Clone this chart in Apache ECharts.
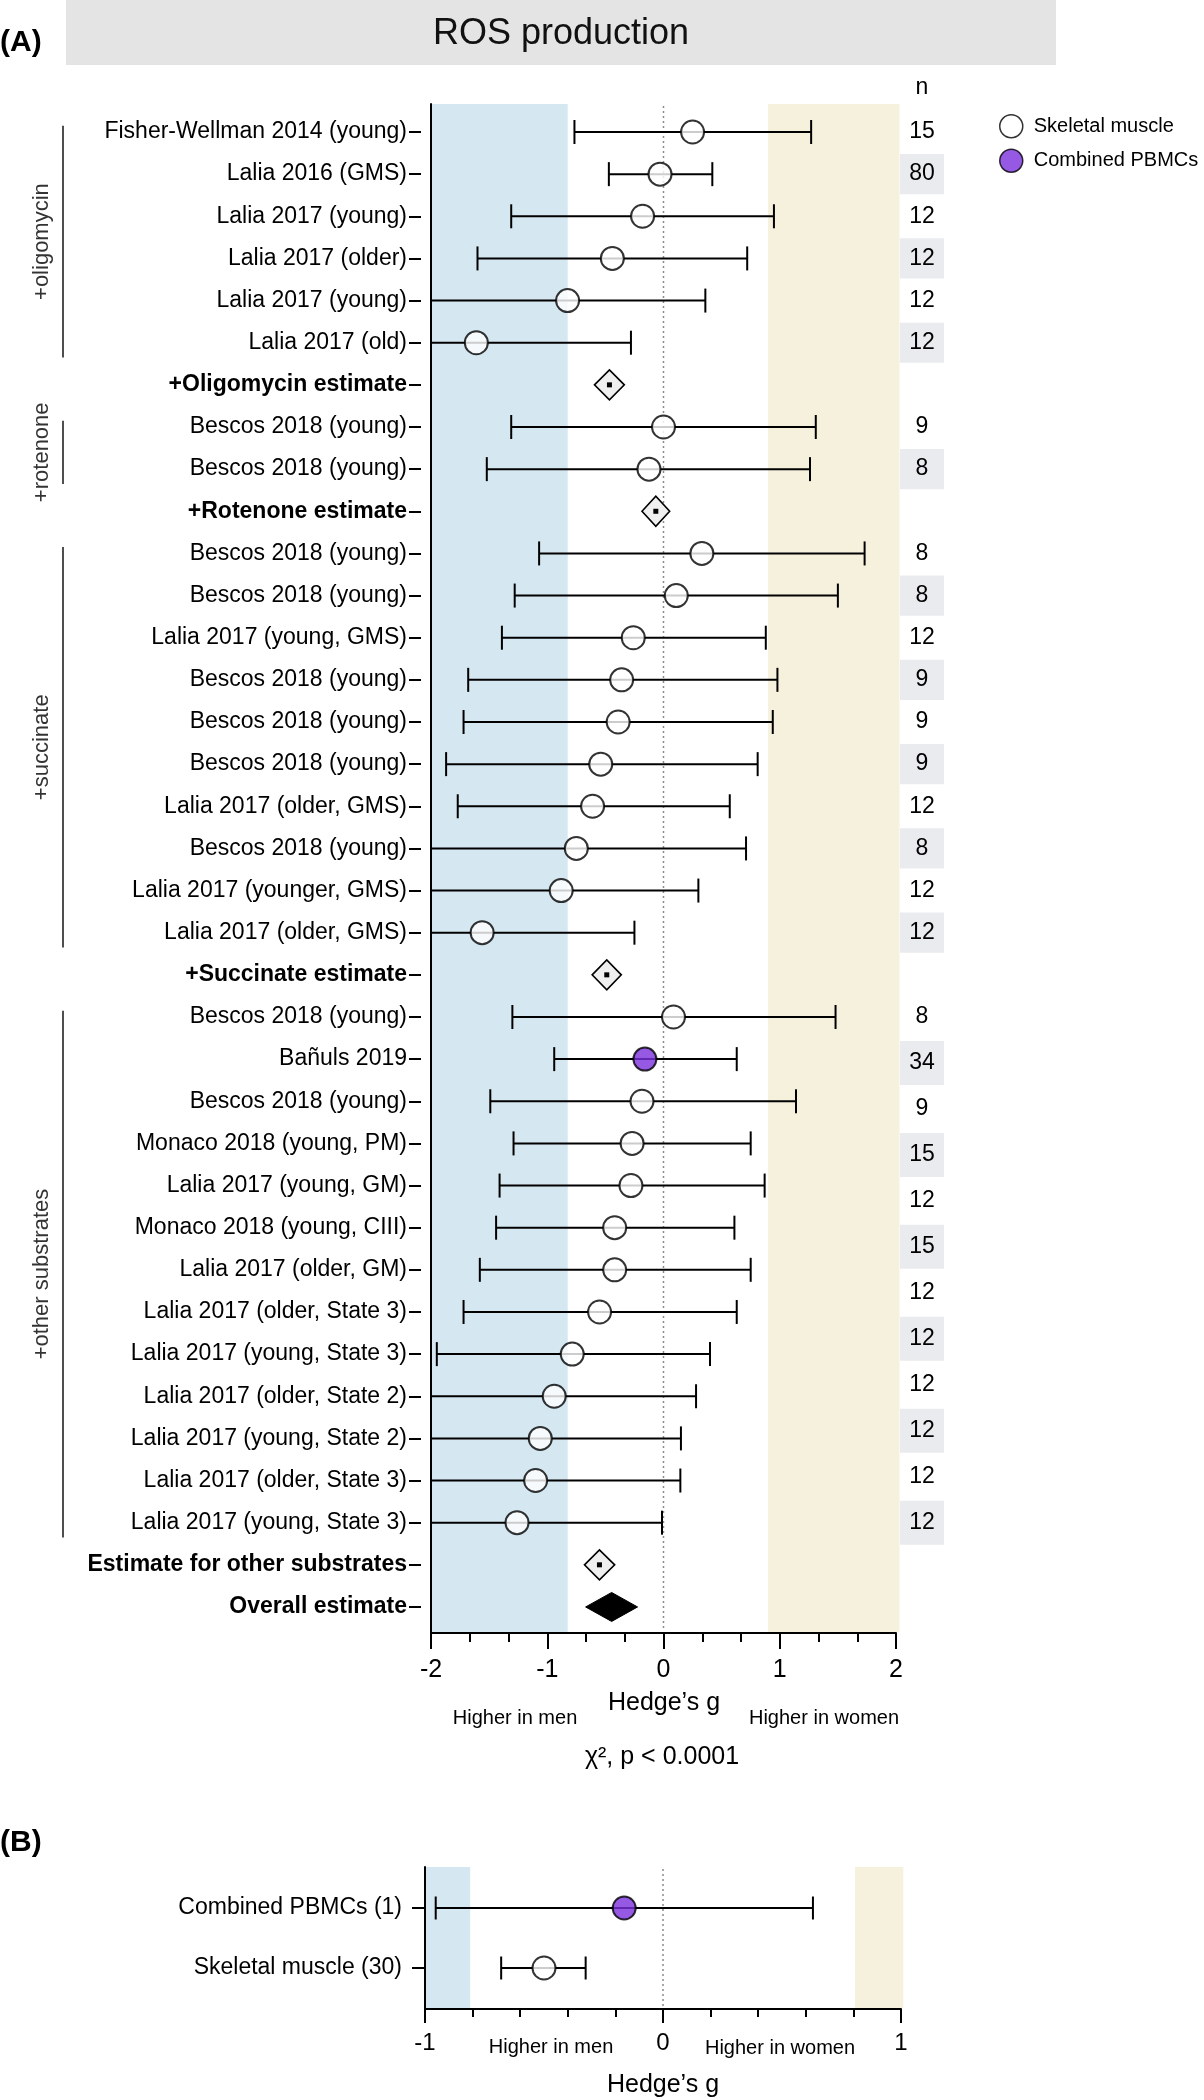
<!DOCTYPE html>
<html>
<head>
<meta charset="utf-8">
<script src="https://cdn.jsdelivr.net/npm/echarts@6/dist/echarts.min.js"></script>
<style>
  html, body { margin: 0; padding: 0; background: #fff; }
  #chart { width: 1204px; height: 2100px; }
</style>
</head>
<body>
<div id="chart"></div>
<script>
// rows of panel A, top to bottom
const rowLabels = [
  'Fisher-Wellman 2014 (young)', 'Lalia 2016 (GMS)', 'Lalia 2017 (young)', 'Lalia 2017 (older)',
  'Lalia 2017 (young)', 'Lalia 2017 (old)', '+Oligomycin estimate',
  'Bescos 2018 (young)', 'Bescos 2018 (young)', '+Rotenone estimate',
  'Bescos 2018 (young)', 'Bescos 2018 (young)', 'Lalia 2017 (young, GMS)', 'Bescos 2018 (young)',
  'Bescos 2018 (young)', 'Bescos 2018 (young)', 'Lalia 2017 (older, GMS)', 'Bescos 2018 (young)',
  'Lalia 2017 (younger, GMS)', 'Lalia 2017 (older, GMS)', '+Succinate estimate',
  'Bescos 2018 (young)', 'Bañuls 2019', 'Bescos 2018 (young)', 'Monaco 2018 (young, PM)',
  'Lalia 2017 (young, GM)', 'Monaco 2018 (young, CIII)', 'Lalia 2017 (older, GM)',
  'Lalia 2017 (older, State 3)', 'Lalia 2017 (young, State 3)', 'Lalia 2017 (older, State 2)',
  'Lalia 2017 (young, State 2)', 'Lalia 2017 (older, State 3)', 'Lalia 2017 (young, State 3)',
  'Estimate for other substrates', 'Overall estimate'
]
// m = skeletal muscle, p = combined PBMCs, e = subgroup estimate, o = overall estimate
const rowKind = [
  'm', 'm', 'm', 'm', 'm', 'm', 'e',
  'm', 'm', 'e',
  'm', 'm', 'm', 'm', 'm', 'm', 'm', 'm', 'm', 'm', 'e',
  'm', 'p', 'm', 'm', 'm', 'm', 'm', 'm', 'm', 'm', 'm', 'm', 'm', 'e', 'o'
]
const effect = [
  0.25, -0.03, -0.18, -0.44, -0.825, -1.61, -0.465,
  0.0, -0.125, -0.066,
  0.33, 0.11, -0.26, -0.36, -0.39, -0.54, -0.61, -0.75, -0.88, -1.56, -0.488,
  0.086, -0.16, -0.185, -0.27, -0.28, -0.42, -0.42, -0.55, -0.785, -0.94, -1.06, -1.10, -1.26, -0.551, -0.446
]
const lower = [
  -0.766, -0.47, -1.31, -1.60, -2.1, -2.1, -0.594,
  -1.31, -1.52, -0.185,
  -1.07, -1.28, -1.39, -1.68, -1.72, -1.87, -1.77, -2.1, -2.1, -2.1, -0.614,
  -1.30, -0.94, -1.49, -1.29, -1.41, -1.44, -1.58, -1.72, -1.95, -2.1, -2.1, -2.1, -2.1, -0.68, -0.67
]
const upper = [
  1.27, 0.42, 0.95, 0.72, 0.36, -0.28, -0.337,
  1.31, 1.26, 0.053,
  1.73, 1.50, 0.88, 0.98, 0.94, 0.81, 0.57, 0.71, 0.30, -0.25, -0.363,
  1.48, 0.63, 1.14, 0.75, 0.87, 0.61, 0.75, 0.63, 0.40, 0.28, 0.15, 0.145, -0.013, -0.42, -0.223
]

// substrate groups: first and last row, and the n column for that group
const sectionNames = ['+oligomycin', '+rotenone', '+succinate', '+other substrates']
const sectionFirst = [0, 7, 10, 21]
const sectionLast = [5, 8, 19, 33]
const nOligomycin = [15, 80, 12, 12, 12, 12]
const nRotenone = [9, 8]
const nSuccinate = [8, 8, 12, 9, 9, 9, 12, 8, 12, 12]
const nOther = [8, 34, 9, 15, 12, 15, 12, 12, 12, 12, 12, 12]
const sectionN = [nOligomycin, nRotenone, nSuccinate, nOther]

// shaded zones [from, to]
const bandsA = [[-2, -0.824], [0.90, 2.03]]
const bandsB = [[-1, -0.81], [0.807, 1.01]]

// panel B
const groupLabels = ['Combined PBMCs (1)', 'Skeletal muscle (30)']
const groupKind = ['p', 'm']
const groupEffect = [-0.163, -0.50]
const groupLower = [-0.955, -0.68]
const groupUpper = [0.63, -0.325]

const FONT = '"Liberation Sans", Arial, Helvetica, sans-serif'
const BLUE = '#d5e7f1'
const BEIGE = '#f6f1dc'
const PURPLE = '#7b2fdc'

function bandRender(colors) {
  return function(params, api) {
    const cs = params.coordSys
    const x1 = api.coord([api.value(0), 0])[0]
    const x2 = api.coord([api.value(1), 0])[0]
    return {
      type: 'rect',
      shape: { x: x1, y: cs.y, width: x2 - x1, height: cs.height - 1 },
      style: { fill: colors[params.dataIndex] }
    }
  }
}

function zeroLineRender(params, api) {
  const cs = params.coordSys
  const x = api.coord([0, 0])[0]
  return {
    type: 'line',
    shape: { x1: x, y1: cs.y + 2, x2: x, y2: cs.y + cs.height - 2 },
    style: { stroke: '#8a8a8a', lineWidth: 1.5, lineDash: [2, 3] }
  }
}

function whiskerRender(capH) {
  return function(params, api) {
    const cs = params.coordSys
    const idx = api.value(2)
    const y = api.coord([0, idx])[1]
    let x1 = api.coord([api.value(0), idx])[0]
    let x2 = api.coord([api.value(1), idx])[0]
    const style = { stroke: '#000', lineWidth: 2 }
    const children = []
    const clipLeft = x1 < cs.x
    if (clipLeft) x1 = cs.x
    children.push({ type: 'line', shape: { x1: x1, y1: y, x2: x2, y2: y }, style: style })
    if (!clipLeft) {
      children.push({ type: 'line', shape: { x1: x1, y1: y - capH / 2, x2: x1, y2: y + capH / 2 }, style: style })
    }
    children.push({ type: 'line', shape: { x1: x2, y1: y - capH / 2, x2: x2, y2: y + capH / 2 }, style: style })
    return { type: 'group', children: children }
  }
}

function diamondRender(params, api) {
  const idx = api.value(2)
  const y = api.coord([0, idx])[1]
  const xl = api.coord([api.value(0), idx])[0]
  const xr = api.coord([api.value(1), idx])[0]
  const xc = api.coord([api.value(3), idx])[0]
  const overall = api.value(4) === 1
  const h = overall ? 29 : 30
  const pts = [[xl, y], [xc, y - h / 2], [xr, y], [xc, y + h / 2]]
  const children = [{
    type: 'polygon',
    shape: { points: pts },
    style: overall ? { fill: '#000', stroke: '#000', lineWidth: 1 } : { fill: '#efefef', stroke: '#000', lineWidth: 1.6 }
  }]
  if (!overall) {
    children.push({ type: 'rect', shape: { x: xc - 2.5, y: y - 2.5, width: 5, height: 5 }, style: { fill: '#000' } })
  }
  return { type: 'group', children: children }
}

function sectionRender(params, api) {
  const first = api.value(0)
  const last = api.value(1)
  const step = api.size([0, 1])[1]
  const y1 = api.coord([0, first])[1] - 0.15 * step
  const y2 = api.coord([0, last])[1] + 0.35 * step
  const lineX = 63
  return {
    type: 'group',
    children: [
      { type: 'line', shape: { x1: lineX, y1: y1, x2: lineX, y2: y2 }, style: { stroke: '#222', lineWidth: 1.6 } },
      {
        type: 'text', x: 42, y: (y1 + y2) / 2, rotation: Math.PI / 2,
        style: { text: sectionNames[params.dataIndex], x: 0, y: 0, fill: '#333', font: '22px ' + FONT, textAlign: 'center', textVerticalAlign: 'middle' }
      }
    ]
  }
}

function nRender(params, api) {
  const pos = api.value(0)
  const step = api.value(3)
  const cs = params.coordSys
  const y = api.coord([0.5, pos])[1]
  const hpx = Math.abs(api.coord([0.5, pos + step])[1] - y)
  const children = []
  if (api.value(2) === 1) {
    children.push({ type: 'rect', shape: { x: cs.x, y: y - hpx / 2 + 1, width: cs.width, height: hpx - 2 }, style: { fill: '#eaebee' } })
  }
  children.push({
    type: 'text',
    style: { text: String(api.value(1)), x: cs.x + cs.width / 2, y: y, fill: '#000', font: '23px ' + FONT, textAlign: 'center', textVerticalAlign: 'middle' }
  })
  return { type: 'group', children: children }
}

// data assembled from the arrays above
const whiskerDataA = []
const muscleDataA = []
const pbmcDataA = []
const diamondData = []
rowLabels.forEach(function(label, i) {
  const k = rowKind[i]
  if (k === 'm' || k === 'p') {
    whiskerDataA.push([lower[i], upper[i], i])
    if (k === 'm') muscleDataA.push([effect[i], i])
    else pbmcDataA.push([effect[i], i])
  } else {
    diamondData.push([lower[i], upper[i], i, effect[i], k === 'o' ? 1 : 0])
  }
})

const sectionData = sectionNames.map(function(name, s) { return [sectionFirst[s], sectionLast[s]] })

const nData = []
sectionN.forEach(function(vals, s) {
  const span = sectionLast[s] - sectionFirst[s]
  const step = vals.length > 1 ? span / (vals.length - 1) : 1
  vals.forEach(function(n, j) {
    nData.push([sectionFirst[s] + j * step, n, j % 2, step])
  })
})

const whiskerDataB = groupLabels.map(function(l, i) { return [groupLower[i], groupUpper[i], i] })
const muscleDataB = []
const pbmcDataB = []
groupLabels.forEach(function(l, i) {
  if (groupKind[i] === 'm') muscleDataB.push([groupEffect[i], i])
  else pbmcDataB.push([groupEffect[i], i])
})

const muscleStyle = { color: '#fff', borderColor: '#000', borderWidth: 2 }
const pbmcStyle = { color: PURPLE, borderColor: '#000', borderWidth: 2 }

const chart = echarts.init(document.getElementById('chart'), null, { renderer: 'canvas' })

const textBase = { fontFamily: FONT, color: '#000' }

chart.setOption({
  animation: false,
  backgroundColor: '#fff',
  textStyle: { fontFamily: FONT },
  legend: {
    orient: 'vertical',
    left: 999,
    top: 114,
    itemWidth: 23,
    itemHeight: 23,
    itemGap: 10,
    padding: 0,
    selectedMode: false,
    icon: 'circle',
    textStyle: { fontSize: 20, color: '#000', fontFamily: FONT, padding: [0, 0, 0, 6] },
    data: [
      { name: 'Skeletal muscle', itemStyle: { color: '#fff', borderColor: '#000', borderWidth: 1.5 } },
      { name: 'Combined PBMCs', itemStyle: { color: PURPLE, borderColor: '#000', borderWidth: 1.5 } }
    ]
  },
  grid: [
    { left: 431, top: 104, width: 465, height: 1529 },
    { left: 431, top: 110.93, width: 465, height: 1517.1 },
    { left: 900, top: 110.93, width: 44, height: 1517.1 },
    { left: 425, top: 1867, width: 476, height: 142 },
    { left: 425, top: 1878, width: 476, height: 120 }
  ],
  xAxis: [
    {
      gridIndex: 0, type: 'value', min: -2, max: 2, interval: 1, z: 10,
      axisLine: { show: true, onZero: false, lineStyle: { color: '#000', width: 2 } },
      axisTick: { show: true, length: 16, lineStyle: { color: '#000', width: 2 } },
      minorTick: { show: true, splitNumber: 3, length: 9, lineStyle: { color: '#000', width: 2 } },
      splitLine: { show: false },
      axisLabel: Object.assign({ fontSize: 25, margin: 25 }, textBase)
    },
    { gridIndex: 1, type: 'value', min: -2, max: 2, show: false },
    { gridIndex: 2, type: 'value', min: 0, max: 1, show: false },
    {
      gridIndex: 3, type: 'value', min: -1, max: 1, interval: 1, z: 10,
      axisLine: { show: true, onZero: false, lineStyle: { color: '#000', width: 2 } },
      axisTick: { show: true, length: 14, lineStyle: { color: '#000', width: 2 } },
      minorTick: { show: true, splitNumber: 5, length: 8, lineStyle: { color: '#000', width: 2 } },
      splitLine: { show: false },
      axisLabel: Object.assign({ fontSize: 24, margin: 22 }, textBase)
    },
    { gridIndex: 4, type: 'value', min: -1, max: 1, show: false }
  ],
  yAxis: [
    {
      gridIndex: 0, type: 'value', min: 0, max: 1, z: 10,
      axisLine: { show: true, onZero: false, lineStyle: { color: '#000', width: 2 } },
      axisTick: { show: false }, axisLabel: { show: false }, splitLine: { show: false }
    },
    {
      gridIndex: 1, type: 'category', inverse: true, data: rowLabels, offset: 10,
      axisLine: { show: false, onZero: false },
      axisTick: { show: true, alignWithLabel: true, length: 12, lineStyle: { color: '#000', width: 2 } },
      splitLine: { show: false },
      axisLabel: Object.assign({
        fontSize: 23, margin: 14, interval: 0,
        formatter: function(value, index) {
          return (rowKind[index] === 'e' || rowKind[index] === 'o') ? '{b|' + value + '}' : value
        },
        rich: { b: { fontWeight: 'bold', fontSize: 23, fontFamily: FONT, color: '#000' } }
      }, textBase)
    },
    { gridIndex: 2, type: 'value', min: -0.5, max: 35.5, inverse: true, show: false },
    {
      gridIndex: 3, type: 'value', min: 0, max: 1, z: 10,
      axisLine: { show: true, onZero: false, lineStyle: { color: '#000', width: 2 } },
      axisTick: { show: false }, axisLabel: { show: false }, splitLine: { show: false }
    },
    {
      gridIndex: 4, type: 'category', inverse: true, data: groupLabels,
      axisLine: { show: false, onZero: false },
      axisTick: { show: true, alignWithLabel: true, length: 13, lineStyle: { color: '#000', width: 2 } },
      splitLine: { show: false },
      axisLabel: Object.assign({ fontSize: 23, margin: 23 }, textBase)
    }
  ],
  series: [
    { type: 'custom', name: 'bandsA', xAxisIndex: 0, yAxisIndex: 0, z: 1, silent: true, renderItem: bandRender([BLUE, BEIGE]), data: bandsA },
    { type: 'custom', name: 'zeroA', xAxisIndex: 0, yAxisIndex: 0, z: 2, silent: true, renderItem: zeroLineRender, data: [[0]] },
    { type: 'custom', name: 'whiskersA', xAxisIndex: 1, yAxisIndex: 1, z: 3, silent: true, encode: { x: [0, 1], y: 2 }, renderItem: whiskerRender(24), data: whiskerDataA },
    { type: 'custom', name: 'estimates', xAxisIndex: 1, yAxisIndex: 1, z: 3, silent: true, encode: { x: [0, 1, 3], y: 2 }, renderItem: diamondRender, data: diamondData },
    { type: 'custom', name: 'sections', xAxisIndex: 1, yAxisIndex: 1, z: 3, silent: true, clip: false, encode: { y: [0, 1] }, renderItem: sectionRender, data: sectionData },
    { type: 'custom', name: 'nColumn', xAxisIndex: 2, yAxisIndex: 2, z: 3, silent: true, clip: false, encode: { y: 0 }, renderItem: nRender, data: nData },
    { type: 'scatter', name: 'Skeletal muscle', xAxisIndex: 1, yAxisIndex: 1, z: 5, symbol: 'circle', symbolSize: 23, itemStyle: muscleStyle, data: muscleDataA },
    { type: 'scatter', name: 'Combined PBMCs', xAxisIndex: 1, yAxisIndex: 1, z: 5, symbol: 'circle', symbolSize: 23, itemStyle: pbmcStyle, data: pbmcDataA },

    { type: 'custom', name: 'bandsB', xAxisIndex: 3, yAxisIndex: 3, z: 1, silent: true, renderItem: bandRender([BLUE, BEIGE]), data: bandsB },
    { type: 'custom', name: 'zeroB', xAxisIndex: 3, yAxisIndex: 3, z: 2, silent: true, renderItem: zeroLineRender, data: [[0]] },
    { type: 'custom', name: 'whiskersB', xAxisIndex: 4, yAxisIndex: 4, z: 3, silent: true, encode: { x: [0, 1], y: 2 }, renderItem: whiskerRender(23), data: whiskerDataB },
    { type: 'scatter', name: 'Skeletal muscle', xAxisIndex: 4, yAxisIndex: 4, z: 5, symbol: 'circle', symbolSize: 23, itemStyle: muscleStyle, data: muscleDataB },
    { type: 'scatter', name: 'Combined PBMCs', xAxisIndex: 4, yAxisIndex: 4, z: 5, symbol: 'circle', symbolSize: 23, itemStyle: pbmcStyle, data: pbmcDataB }
  ],
  graphic: [
    { type: 'rect', left: 66, top: 0, shape: { width: 990, height: 65 }, style: { fill: '#e4e4e4' }, z: 0 },
    { type: 'text', x: 561, y: 34, style: { text: 'ROS production', font: '36px ' + FONT, fill: '#111', textAlign: 'center', textVerticalAlign: 'middle' } },
    { type: 'text', x: 0, y: 43, style: { text: '(A)', font: 'bold 30px ' + FONT, fill: '#000', textAlign: 'left', textVerticalAlign: 'middle' } },
    { type: 'text', x: 922, y: 88, style: { text: 'n', font: '23px ' + FONT, fill: '#000', textAlign: 'center', textVerticalAlign: 'middle' } },
    { type: 'text', x: 664, y: 1703, style: { text: 'Hedge\u2019s g', font: '25px ' + FONT, fill: '#000', textAlign: 'center', textVerticalAlign: 'middle' } },
    { type: 'text', x: 515, y: 1718, style: { text: 'Higher in men', font: '20px ' + FONT, fill: '#000', textAlign: 'center', textVerticalAlign: 'middle' } },
    { type: 'text', x: 824, y: 1718, style: { text: 'Higher in women', font: '20px ' + FONT, fill: '#000', textAlign: 'center', textVerticalAlign: 'middle' } },
    { type: 'text', x: 662, y: 1757, style: { text: '\u03c7\u00b2, p < 0.0001', font: '25px ' + FONT, fill: '#000', textAlign: 'center', textVerticalAlign: 'middle' } },
    { type: 'text', x: 0, y: 1843, style: { text: '(B)', font: 'bold 30px ' + FONT, fill: '#000', textAlign: 'left', textVerticalAlign: 'middle' } },
    { type: 'text', x: 551, y: 2047, style: { text: 'Higher in men', font: '20px ' + FONT, fill: '#000', textAlign: 'center', textVerticalAlign: 'middle' } },
    { type: 'text', x: 780, y: 2048, style: { text: 'Higher in women', font: '20px ' + FONT, fill: '#000', textAlign: 'center', textVerticalAlign: 'middle' } },
    { type: 'text', x: 663, y: 2085, style: { text: 'Hedge\u2019s g', font: '25px ' + FONT, fill: '#000', textAlign: 'center', textVerticalAlign: 'middle' } }
  ]
})
</script>
</body>
</html>
